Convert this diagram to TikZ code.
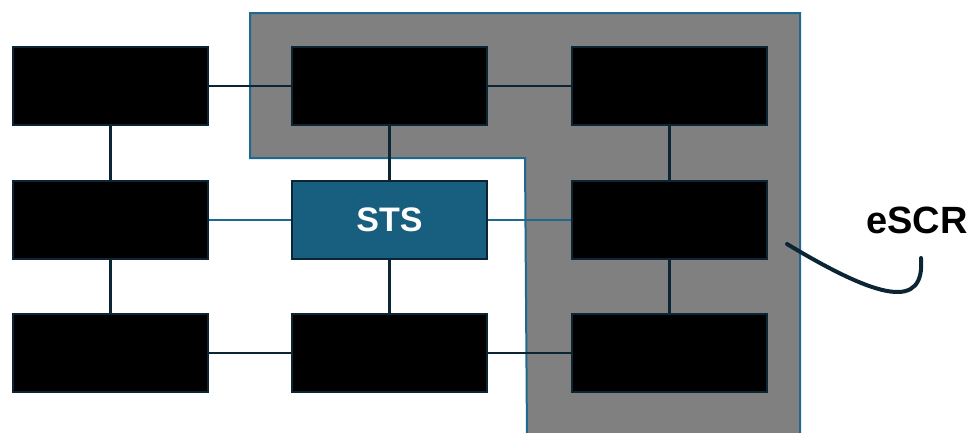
\documentclass[tikz,border=0pt]{standalone}
\usepackage{fontspec}
\setmainfont{Liberation Sans}
\usetikzlibrary{positioning}
\definecolor{navy}{HTML}{0B2535}
\definecolor{lineblue}{HTML}{1D6A8E}
\definecolor{stsblue}{HTML}{175E7F}
\definecolor{zonegray}{HTML}{808080}

\begin{document}
\begin{tikzpicture}[x=1pt, y=-1pt,
  box/.style={draw=navy, fill=black, line width=2.5pt, minimum width=195pt, minimum height=78pt, inner sep=0pt},
  link/.style={navy, line width=2.5pt},
  bluelink/.style={lineblue, line width=2.5pt}]
\useasboundingbox (0,0) rectangle (973,432);

% eSCR zone
\draw[fill=zonegray, draw=lineblue, line width=2pt] (250,13) -- (800,13) -- (800,440) -- (527,440) -- (525,158) -- (250,158) -- cycle;

\node[box] (a1) at (110.5, 86) {};
\node[box] (a2) at (110.5, 220) {};
\node[box] (a3) at (110.5, 353) {};

\node[box] (b1) at (389.5, 86) {};
\node[box, fill=stsblue] (sts) at (389.5, 220) {\fontsize{34}{40}\selectfont\bfseries\color{white} STS};
\node[box] (b3) at (389.5, 353) {};

\node[box] (c1) at (669.5, 86) {};
\node[box] (c2) at (669.5, 220) {};
\node[box] (c3) at (669.5, 353) {};

\draw[link] (a1) -- (b1);
\draw[link] (b1) -- (c1);
\draw[bluelink] (a2) -- (sts);
\draw[bluelink] (sts) -- (c2);
\draw[link] (a3) -- (b3);
\draw[link] (b3) -- (c3);

\draw[link] (a1) -- (a2);
\draw[link] (a2) -- (a3);
\draw[link] (b1) -- (sts);
\draw[link] (sts) -- (b3);
\draw[link] (c1) -- (c2);
\draw[link] (c2) -- (c3);

% label
\node[anchor=base west, inner sep=0pt, font=\fontsize{38}{44}\selectfont\bfseries] (escr) at (866,233) {eSCR};
\coordinate (tail) at (787,244);
\coordinate (hook) at (921,258);
\draw[navy, line width=4pt, line cap=round] (tail) .. controls (880,300) and (925,310) .. (hook);

\end{tikzpicture}
\end{document}
